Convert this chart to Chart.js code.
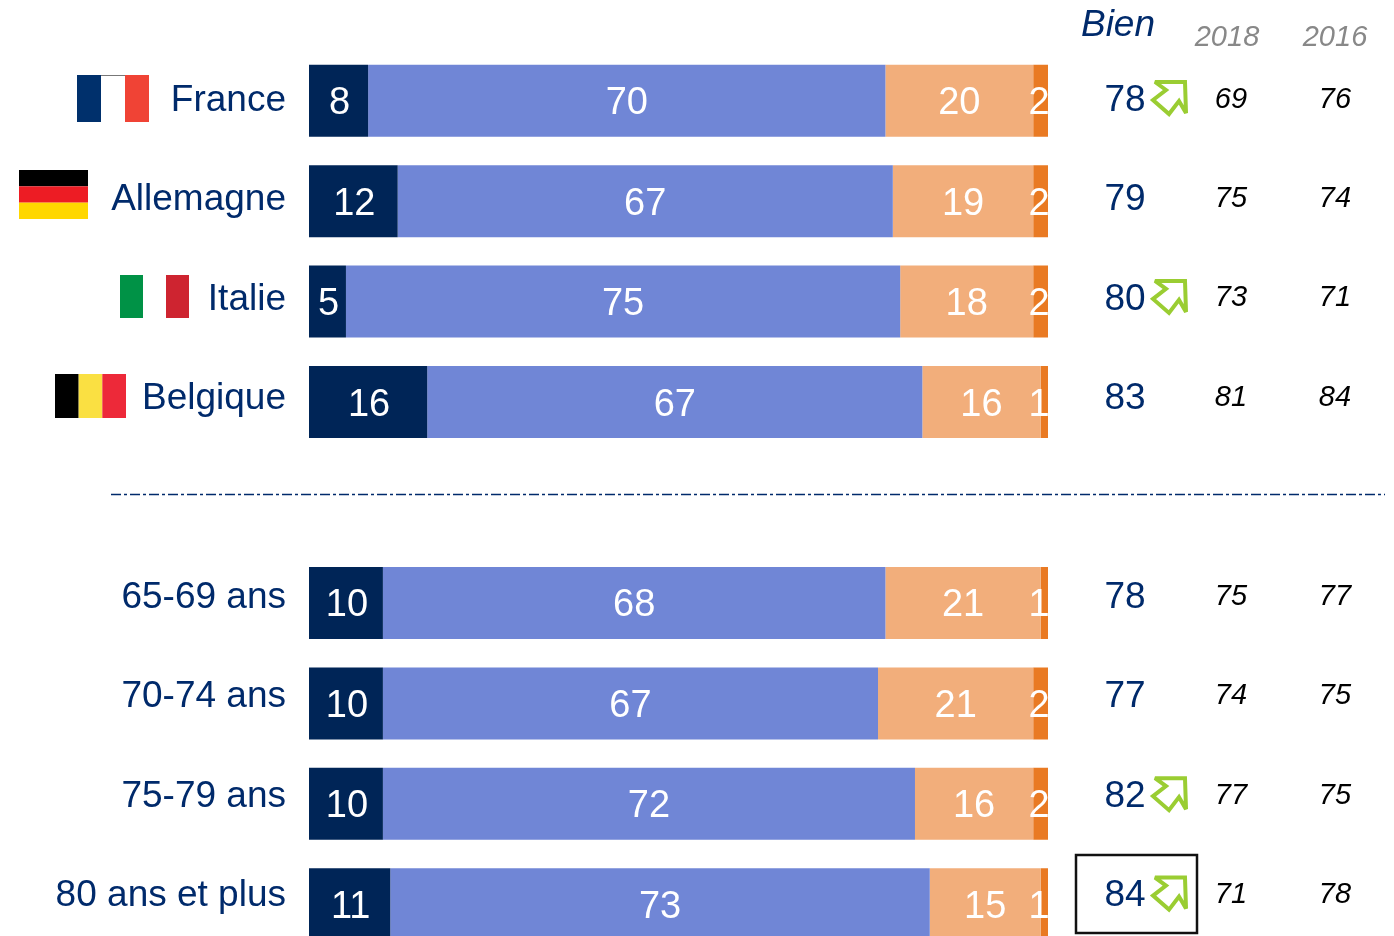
<!DOCTYPE html>
<html>
<head>
<meta charset="utf-8">
<style>
    html, body { margin: 0; padding: 0; background: #fff; overflow: hidden; }
    #wrap { width: 1394px; height: 936px; overflow: hidden; }
    #graphe { display: block; }
</style>
<script src="https://cdn.jsdelivr.net/npm/chart.js@4"></script>
</head>
<body>
<div id="wrap"><canvas id="graphe" width="1394" height="960"></canvas></div>
<script>
// the empty category is the gap under the dash-dot line
const categories = ["France", "Allemagne", "Italie", "Belgique", "", "65-69 ans", "70-74 ans", "75-79 ans", "80 ans et plus"];
const tresBien = [8, 12, 5, 16, null, 10, 10, 10, 11];
const plutotBien = [70, 67, 75, 67, null, 68, 67, 72, 73];
const plutotMal = [20, 19, 18, 16, null, 21, 21, 16, 15];
const tresMal = [2, 2, 2, 1, null, 1, 2, 2, 1];

const totalBien = [78, 79, 80, 83, null, 78, 77, 82, 84];
const score2018 = [69, 75, 73, 81, null, 75, 74, 77, 71];
const score2016 = [76, 74, 71, 84, null, 77, 75, 75, 78];
const enHausse = [true, false, true, false, false, false, false, true, true];

const flags = {
    "France": { box: [77, 75, 72, 47], dir: "v", colors: ["#00306C", "#FFFFFF", "#F04335"], edge: "#777777" },
    "Allemagne": { box: [19, 170, 69, 49], dir: "h", colors: ["#000000", "#ED1C24", "#FFD700"] },
    "Italie": { box: [120, 275, 69, 43], dir: "v", colors: ["#009246", "#FFFFFF", "#CE2430"] },
    "Belgique": { box: [55, 374, 71, 44], dir: "v", colors: ["#000000", "#FAE042", "#ED2939"] }
};

const navy = "#002A6B";
// the text rows sit a little tighter than the bars in the original
const rowY = i => 98 + i * 99.45;

function drawFlag(ctx, flag) {
    const [x, y, w, h] = flag.box;
    flag.colors.forEach((color, i) => {
        ctx.fillStyle = color;
        if (flag.dir == "v") ctx.fillRect(x + i * w / 3, y, w / 3, h);
        else ctx.fillRect(x, y + i * h / 3, w, h / 3);
    });
    if (flag.edge) {
        ctx.fillStyle = flag.edge;
        ctx.fillRect(x + w / 3, y, w / 3, 1);
    }
}

function drawArrow(ctx, cx, cy) {
    const pts = [[-15, -16], [15, -16], [16, 15], [9, 3], [-1, 16], [-17, 2], [-4, -8]];
    ctx.beginPath();
    pts.forEach((p, i) => {
        if (i == 0) ctx.moveTo(cx + p[0], cy + p[1]);
        else ctx.lineTo(cx + p[0], cy + p[1]);
    });
    ctx.closePath();
    ctx.strokeStyle = "#9ACD32";
    ctx.lineWidth = 4;
    ctx.lineJoin = "miter";
    ctx.miterLimit = 2;
    ctx.stroke();
}

// numbers inside the bars, cut off at the end of the bar like the original
const barLabels = {
    id: "barLabels",
    afterDatasetsDraw(chart) {
        const ctx = chart.ctx;
        const area = chart.chartArea;
        ctx.save();
        ctx.beginPath();
        ctx.rect(area.left, area.top, area.right - area.left, area.bottom - area.top);
        ctx.clip();
        ctx.font = "38px 'Liberation Sans'";
        ctx.fillStyle = "#FFFFFF";
        ctx.textAlign = "center";
        ctx.textBaseline = "middle";
        chart.data.datasets.forEach((ds, d) => {
            chart.getDatasetMeta(d).data.forEach((bar, i) => {
                if (ds.data[i] == null) return;
                let x = (bar.x + bar.base) / 2;
                if (d == 0) x += 1;
                if (d == 3) x = Math.min(x, area.right - 9);
                ctx.fillText(ds.data[i], x, bar.y + 3);
            });
        });
        ctx.restore();
    }
};

// row names, flags, score columns and the separator
const sideTexts = {
    id: "sideTexts",
    afterDraw(chart) {
        const ctx = chart.ctx;
        ctx.save();
        ctx.textBaseline = "middle";

        categories.forEach((name, i) => {
            if (!name) return;
            const y = rowY(i);
            if (flags[name]) drawFlag(ctx, flags[name]);
            if (enHausse[i]) drawArrow(ctx, 1170, y);

            ctx.fillStyle = navy;
            ctx.font = "37px 'Liberation Sans'";
            ctx.textAlign = "right";
            ctx.fillText(name, 286, y + 2.5);
            ctx.textAlign = "center";
            ctx.fillText(totalBien[i], 1125, y + 2.5);

            ctx.fillStyle = "#000000";
            ctx.font = "italic 29px 'Liberation Sans'";
            ctx.fillText(score2018[i], 1231, y + 1.5);
            ctx.fillText(score2016[i], 1335, y + 1.5);
        });

        ctx.textAlign = "center";
        ctx.fillStyle = navy;
        ctx.font = "italic 37px 'Liberation Sans'";
        ctx.fillText("Bien", 1118, 26);
        ctx.fillStyle = "#888888";
        ctx.font = "italic 29px 'Liberation Sans'";
        ctx.fillText("2018", 1227, 38);
        ctx.fillText("2016", 1335, 38);

        ctx.strokeStyle = navy;
        ctx.lineWidth = 1.5;
        ctx.setLineDash([10, 3, 3, 3]);
        ctx.beginPath();
        ctx.moveTo(111, 494.5);
        ctx.lineTo(1385, 494.5);
        ctx.stroke();
        ctx.setLineDash([]);

        ctx.strokeStyle = "#111111";
        ctx.lineWidth = 2.5;
        ctx.strokeRect(1076, 855, 121, 78);
        ctx.restore();
    }
};

new Chart(document.getElementById("graphe"), {
    type: "bar",
    data: {
        labels: categories,
        datasets: [
            { label: "Très bien", data: tresBien, backgroundColor: "#002557" },
            { label: "Plutôt bien", data: plutotBien, backgroundColor: "#7086D6" },
            { label: "Plutôt mal", data: plutotMal, backgroundColor: "#F2AE7B" },
            { label: "Très mal", data: tresMal, backgroundColor: "#E97A23" }
        ]
    },
    options: {
        indexAxis: "y",
        responsive: false,
        animation: false,
        barPercentage: 0.717,
        categoryPercentage: 1,
        layout: { padding: { left: 309, right: 346, top: 50.5, bottom: 5.5 } },
        scales: {
            x: { stacked: true, min: 0, max: 100, display: false },
            y: { stacked: true, display: false }
        },
        plugins: {
            legend: { display: false },
            tooltip: { enabled: false }
        }
    },
    plugins: [barLabels, sideTexts]
});
</script>
</body>
</html>
